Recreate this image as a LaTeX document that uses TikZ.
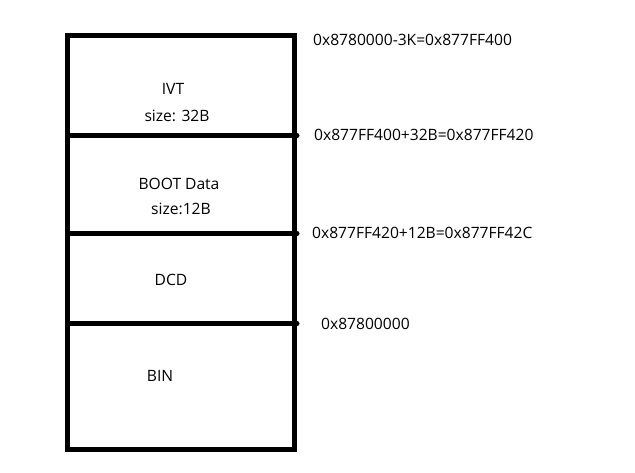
\documentclass[tikz,border=0pt]{standalone}
\usepackage{fontspec}
\setmainfont{Open Sans}
\begin{document}
\begin{tikzpicture}[x=1pt,y=-1pt,
  frame/.style={line width=5pt},
  divider/.style={line width=5pt,line cap=round},
  lbl/.style={inner sep=0pt,font=\fontsize{15.6}{18}\selectfont},
  addr/.style={lbl,anchor=west}]
\useasboundingbox (0,0) rectangle (635,473);
\draw[frame] (67.5,35.5) rectangle (294,449);
\coordinate (d1l) at (67.5,135.5); \coordinate (d1r) at (297,135.5);
\coordinate (d2l) at (67.5,233.5); \coordinate (d2r) at (297,233.5);
\coordinate (d3l) at (67.5,323.5); \coordinate (d3r) at (297,323.5);
\draw[divider] (d1l) -- (d1r);
\draw[divider] (d2l) -- (d2r);
\draw[divider] (d3l) -- (d3r);
\node[lbl] (ivt) at (173,89) {IVT};
\node[lbl] (ivtsize) at (177,116) {size: 32B};
\node[lbl] (boot) at (179,184) {BOOT Data};
\node[lbl] (bootsize) at (181,209) {size:12B};
\node[lbl] (dcd) at (171,280) {DCD};
\node[lbl] (bin) at (160,376) {BIN};
\node[addr] (a0) at (313,40) {0x8780000-3K=0x877FF400};
\node[addr] (a1) at (314,135) {0x877FF400+32B=0x877FF420};
\node[addr] (a2) at (312,233) {0x877FF420+12B=0x877FF42C};
\node[addr] (a3) at (321,324) {0x87800000};
\end{tikzpicture}
\end{document}
